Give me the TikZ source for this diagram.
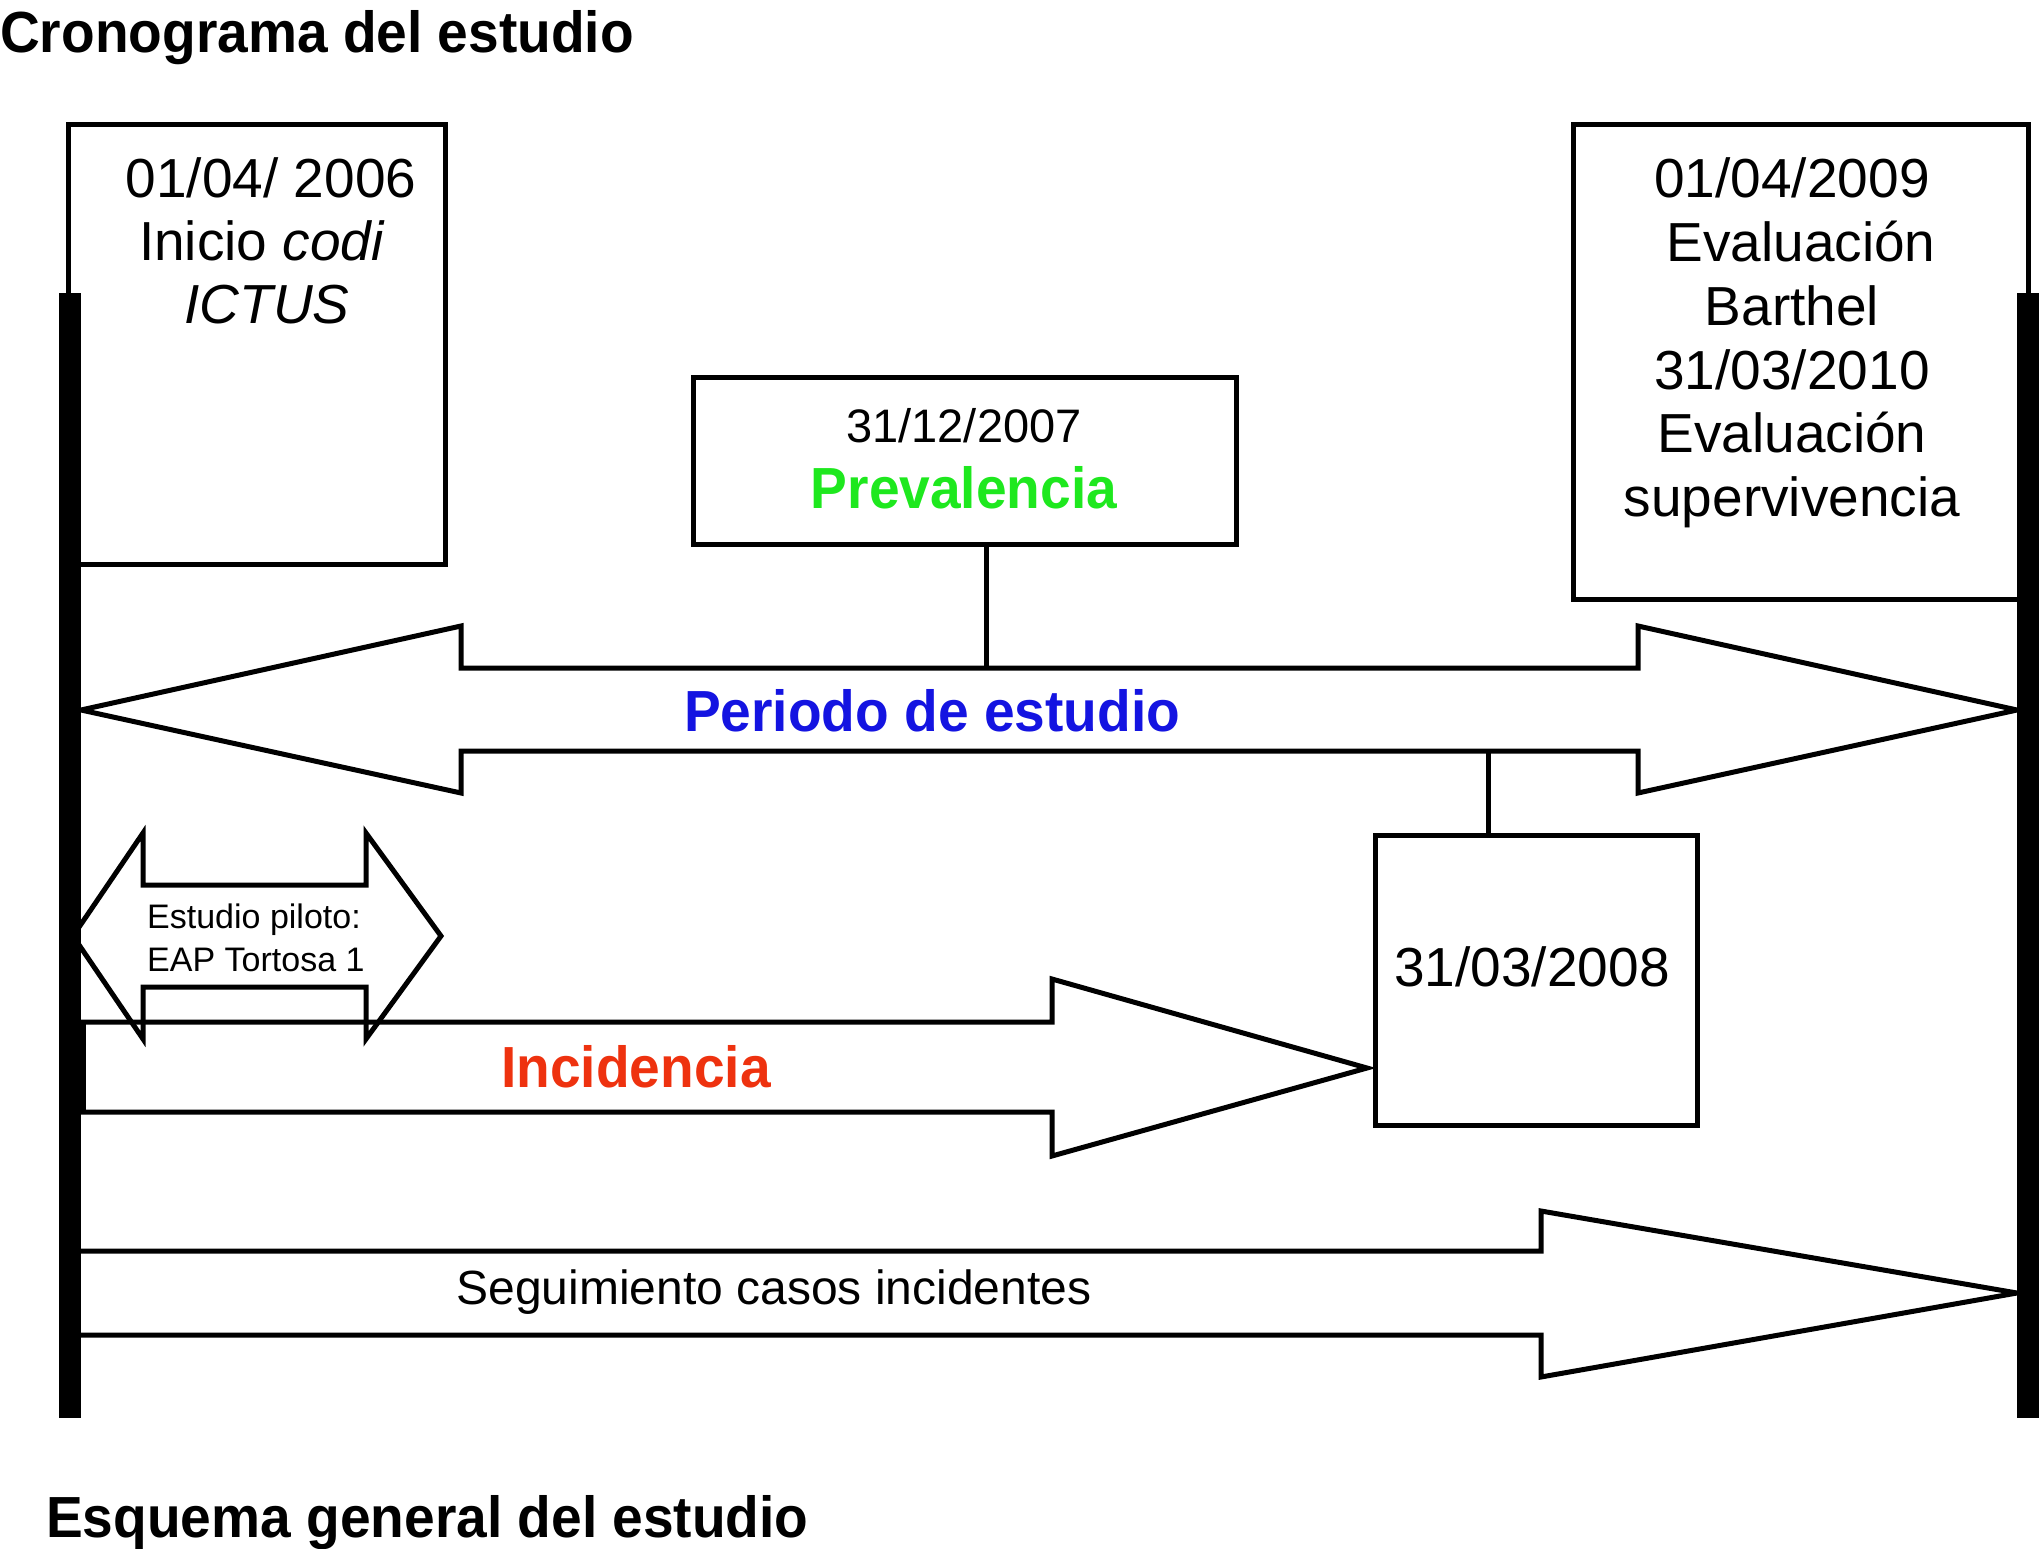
\documentclass[tikz,border=0pt]{standalone}
\usepackage{fontspec}
\setmainfont{Liberation Sans}
\newfontfamily\condb[FakeStretch=0.95]{Liberation Sans Bold}
\definecolor{prevgreen}{RGB}{30,232,30}
\definecolor{perblue}{RGB}{20,20,225}
\definecolor{incred}{RGB}{238,50,15}
\begin{document}
\begin{tikzpicture}[x=1pt,y=-1pt,
  frame/.style={draw, line width=5pt, inner sep=0pt, outer sep=0pt, anchor=north west},
  blockarrow/.style={draw, line width=5pt, line join=miter},
  connector/.style={draw, line width=5pt},
  bar/.style={fill=black},
  txt/.style={inner sep=0pt, anchor=base, font=\fontsize{55}{64}\selectfont},
  smalltxt/.style={inner sep=0pt, anchor=base, font=\fontsize{47}{56}\selectfont},
  pilottxt/.style={inner sep=0pt, anchor=base west, font=\fontsize{34}{41}\selectfont},
  boldlbl/.style={inner sep=0pt, anchor=base, font=\condb\fontsize{58}{64}\selectfont},
  title/.style={inner sep=0pt, anchor=base west, font=\condb\fontsize{58}{64}\selectfont}
]
\useasboundingbox (0,0) rectangle (2042,1549);

% titles
\node[title] (t1) at (0,53) {Cronograma del estudio};
\node[title] (t2) at (46,1537) {Esquema general del estudio};

% boxes
\node[frame, minimum width=377pt, minimum height=439pt] (lbox) at (68,125) {};
\node[frame, minimum width=455pt, minimum height=474pt] (rbox) at (1573,125) {};
\node[frame, minimum width=543pt, minimum height=167pt] (prev) at (693,377) {};
\node[frame, minimum width=322pt, minimum height=290pt] (d08) at (1375,835) {};

% box texts
\node[txt] (l1) at (271,197) {01/04/ 2006};
\node[txt] (l2) at (262,260) {Inicio \textit{codi}};
\node[txt] (l3) at (267,323) {\textit{ICTUS}};

\node[txt] (r1) at (1792,197) {01/04/2009};
\node[txt] (r2) at (1801,261) {Evaluación};
\node[txt] (r3) at (1792,325) {Barthel};
\node[txt] (r4) at (1792,389) {31/03/2010};
\node[txt] (r5) at (1792,452) {Evaluación};
\node[txt] (r6) at (1792,516) {supervivencia};

\node[smalltxt] (p1) at (964,442) {31/12/2007};
\node[boldlbl, text=prevgreen] (p2) at (964,508) {Prevalencia};

\node[txt] (d1) at (1532,986) {31/03/2008};

% big double arrow: periodo de estudio
\draw[blockarrow] (81,710) -- (461,626) -- (461,668) -- (1638,668) -- (1638,626)
  -- (2017,710) -- (1638,793) -- (1638,751) -- (461,751) -- (461,793) -- cycle;
\node[boldlbl, text=perblue] (per) at (932,731) {Periodo de estudio};
\coordinate (pa) at (986,668);
\coordinate (pb) at (1488,751);
\draw[connector] (prev.south -| pa) -- (pa);
\draw[connector] (pb) -- (d08.north -| pb);

% pilot double arrow
\draw[blockarrow] (73,936) -- (143,833) -- (143,885) -- (366,885) -- (366,833)
  -- (441,936) -- (366,1039) -- (366,987) -- (143,987) -- (143,1039) -- cycle;
\node[pilottxt] (e1) at (147,928) {Estudio piloto:};
\node[pilottxt] (e2) at (147,971) {EAP Tortosa 1};

% incidencia arrow
\coordinate (inctip) at (1367,1068);
\draw[blockarrow] (81,1022) -- (1052,1022) -- (1052,979) -- (inctip)
  -- (1052,1156) -- (1052,1112) -- (81,1112);
\node[boldlbl, text=incred] (inc) at (636,1087) {Incidencia};

% seguimiento arrow
\draw[blockarrow] (81,1251) -- (1541,1251) -- (1541,1211) -- (2017,1293)
  -- (1541,1377) -- (1541,1335) -- (81,1335);
\node[inner sep=0pt, anchor=base, font=\fontsize{48}{56}\selectfont] (seg) at (774,1304) {Seguimiento casos incidentes};

% time bars
\fill[bar] (59,293) rectangle (81,1418);
\fill[bar] (80,1020) rectangle (86,1114);
\fill[bar] (2017,293) rectangle (2039,1418);
\end{tikzpicture}
\end{document}
